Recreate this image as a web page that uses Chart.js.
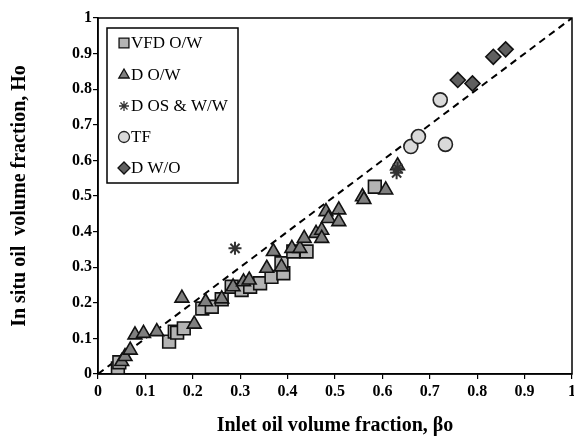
<!DOCTYPE html>
<html>
<head>
<meta charset="utf-8">
<script src="https://cdn.jsdelivr.net/npm/chart.js@4.4.1/dist/chart.umd.min.js"></script>
<style>
  html, body { margin: 0; padding: 0; background: #fff; }
  #wrap { width: 574px; height: 439px; position: relative; }
</style>
</head>
<body>
<div id="wrap"><canvas id="holdupChart"></canvas></div>
<script>
// series values (x = inlet fraction, y = in situ fraction)
const vfdX = [0.042, 0.045, 0.150, 0.162, 0.167, 0.181, 0.220, 0.240, 0.261, 0.282, 0.303, 0.321, 0.342, 0.366, 0.391, 0.387, 0.412, 0.440, 0.584];
const vfdY = [0.016, 0.033, 0.091, 0.119, 0.116, 0.128, 0.184, 0.189, 0.210, 0.245, 0.236, 0.245, 0.255, 0.273, 0.283, 0.311, 0.344, 0.344, 0.526];

const dowX = [0.050, 0.057, 0.068, 0.078, 0.096, 0.124, 0.177, 0.203, 0.227, 0.261, 0.285, 0.307, 0.319, 0.356, 0.370, 0.387, 0.409, 0.426, 0.435, 0.460, 0.472, 0.472, 0.481, 0.486, 0.508, 0.508, 0.558, 0.561, 0.607, 0.632];
const dowY = [0.035, 0.049, 0.067, 0.110, 0.114, 0.119, 0.213, 0.140, 0.203, 0.211, 0.245, 0.259, 0.264, 0.297, 0.344, 0.301, 0.353, 0.353, 0.381, 0.395, 0.404, 0.381, 0.456, 0.437, 0.461, 0.428, 0.498, 0.490, 0.517, 0.585];

const dosX = [0.289, 0.630, 0.632];
const dosY = [0.353, 0.565, 0.578];

const tfX = [0.660, 0.676, 0.722, 0.733];
const tfY = [0.639, 0.667, 0.770, 0.645];

const dwoX = [0.759, 0.790, 0.834, 0.860];
const dwoY = [0.826, 0.816, 0.891, 0.912];

const seriesNames = ["VFD O/W", "D O/W", "D OS & W/W", "TF", "D W/O"];
const xTicks = [0, 0.1, 0.2, 0.3, 0.4, 0.5, 0.6, 0.7, 0.8, 0.9, 1];
const yTicks = [0, 0.1, 0.2, 0.3, 0.4, 0.5, 0.6, 0.7, 0.8, 0.9, 1];
const diagX = [0, 1];
const diagY = [0, 1];

function pts(xs, ys) {
    return xs.map((x, i) => ({ x: x, y: ys[i] }));
}

const serif = "'Liberation Serif', 'Times New Roman', serif";

const styles = [
    { pointStyle: 'rect', radius: 9, fill: '#b4b4b4', stroke: '#111', width: 1.6, order: 5 },
    { pointStyle: 'triangle', radius: 8, fill: '#7f7f7f', stroke: '#111', width: 1.6, order: 4 },
    { pointStyle: 'star', radius: 6.5, fill: '#333', stroke: '#333', width: 2, order: 3 },
    { pointStyle: 'circle', radius: 7, fill: '#dadada', stroke: '#222', width: 1.6, order: 2 },
    { pointStyle: 'rectRot', radius: 7.5, fill: '#5f5f5f', stroke: '#111', width: 1.6, order: 1 }
];

const allData = [pts(vfdX, vfdY), pts(dowX, dowY), pts(dosX, dosY), pts(tfX, tfY), pts(dwoX, dwoY)];

const datasets = seriesNames.map((name, i) => ({
    type: 'scatter',
    label: name,
    data: allData[i],
    pointStyle: styles[i].pointStyle,
    pointRadius: styles[i].radius,
    pointHoverRadius: styles[i].radius,
    backgroundColor: styles[i].fill,
    borderColor: styles[i].stroke,
    pointBorderWidth: styles[i].width,
    order: styles[i].order
}));

datasets.push({
    type: 'line',
    label: 'parity',
    data: pts(diagX, diagY),
    borderColor: '#000',
    borderWidth: 2,
    borderDash: [7, 5],
    pointRadius: 0,
    fill: false,
    order: 10
});

// legend box inside the plot + frame around plot area
const boxLegend = {
    id: 'boxLegend',
    afterDraw(chart) {
        const ctx = chart.ctx;
        const area = chart.chartArea;
        ctx.save();
        ctx.strokeStyle = '#000';
        ctx.lineWidth = 1.5;
        ctx.strokeRect(area.left, area.top, area.right - area.left, area.bottom - area.top);

        const bx = 107, by = 28, bw = 131, bh = 155;
        ctx.fillStyle = '#fff';
        ctx.fillRect(bx, by, bw, bh);
        ctx.strokeRect(bx, by, bw, bh);

        ctx.font = "17px " + serif;
        ctx.textBaseline = 'middle';
        ctx.textAlign = 'left';
        const rows = [43, 75, 106, 137, 168];
        const legendRadius = [7, 6, 5, 5.5, 6];
        seriesNames.forEach((name, i) => {
            ctx.fillStyle = styles[i].fill;
            ctx.strokeStyle = styles[i].stroke;
            ctx.lineWidth = 1.3;
            Chart.helpers.drawPoint(ctx, {
                pointStyle: styles[i].pointStyle,
                radius: legendRadius[i],
                rotation: 0,
                borderWidth: 1.3
            }, 124, rows[i]);
            ctx.fillStyle = '#000';
            ctx.fillText(name, 131, rows[i] + 1);
        });
        ctx.restore();
    }
};

document.addEventListener("DOMContentLoaded", function () {
    const ctx = document.getElementById('holdupChart');

    new Chart(ctx, {
        data: { datasets: datasets },
        options: {
            responsive: true,
            maintainAspectRatio: false,
            animation: false,
            layout: { autoPadding: false, padding: { top: 18, right: 2, left: 0, bottom: 0 } },
            plugins: {
                legend: { display: false },
                tooltip: { enabled: false }
            },
            scales: {
                x: {
                    type: 'linear',
                    min: 0,
                    max: 1,
                    afterFit: function (scale) {
                        scale.height = 65;
                        scale.paddingLeft = 0;
                        scale.paddingRight = 0;
                    },
                    afterBuildTicks: function (scale) {
                        scale.ticks = xTicks.map(v => ({ value: v }));
                    },
                    ticks: {
                        color: '#000',
                        padding: 3,
                        maxRotation: 0,
                        font: { family: serif, size: 16, weight: 'bold' },
                        callback: v => String(v)
                    },
                    grid: {
                        drawOnChartArea: false,
                        drawTicks: true,
                        tickLength: 5,
                        color: '#000',
                        lineWidth: 1.2
                    },
                    border: { color: '#000', width: 1.5 },
                    title: {
                        display: true,
                        text: 'Inlet oil volume fraction, βo',
                        color: '#000',
                        font: { family: serif, size: 20, weight: 'bold' },
                        padding: { top: 0, bottom: 1 }
                    }
                },
                y: {
                    type: 'linear',
                    min: 0,
                    max: 1,
                    afterFit: function (scale) {
                        scale.width = 98;
                        scale.paddingTop = 0;
                        scale.paddingBottom = 0;
                    },
                    afterBuildTicks: function (scale) {
                        scale.ticks = yTicks.map(v => ({ value: v }));
                    },
                    ticks: {
                        color: '#000',
                        padding: 1,
                        font: { family: serif, size: 16, weight: 'bold' },
                        callback: v => String(v)
                    },
                    grid: {
                        drawOnChartArea: false,
                        drawTicks: true,
                        tickLength: 5,
                        color: '#000',
                        lineWidth: 1.2
                    },
                    border: { color: '#000', width: 1.5 },
                    title: {
                        display: true,
                        text: 'In situ oil  volume fraction, Ho',
                        color: '#000',
                        font: { family: serif, size: 20, weight: 'bold' },
                        padding: { top: 8, bottom: 0 }
                    }
                }
            }
        },
        plugins: [boxLegend]
    });
});
</script>
</body>
</html>
